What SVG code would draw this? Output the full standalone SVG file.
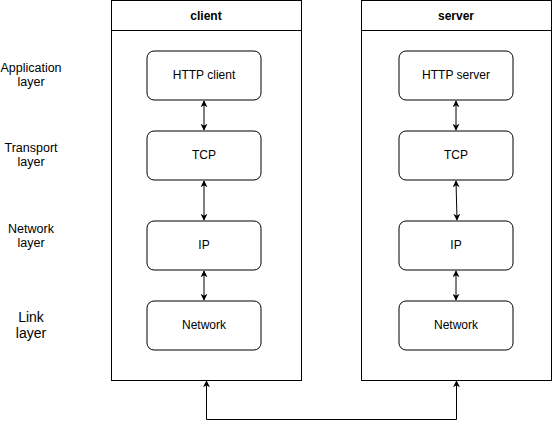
<svg xmlns="http://www.w3.org/2000/svg" width="552" height="430" viewBox="0 0 552 430">
<style>
text{font-family:"Liberation Sans",Arial,sans-serif;font-size:12px;fill:#000;text-anchor:middle}
.hdr{font-weight:bold}
.box{fill:#fff;stroke:#000;stroke-width:1}
.node{fill:#fff;stroke:#000;stroke-width:1}
.conn{fill:none;stroke:#000;stroke-width:1}
.lbl{font-size:12.5px}
.big{font-size:14px}
</style>
<defs>
<marker id="ah" viewBox="0 0 10 10" refX="9" refY="5" markerWidth="7" markerHeight="7" orient="auto-start-reverse" markerUnits="userSpaceOnUse">
<path d="M0,0 L10,5 L0,10 L3,5 Z" fill="#000"/>
</marker>
</defs>
<rect width="552" height="430" fill="#fff"/>
<g id="labels">
<text class="lbl" x="31" y="72">Application</text>
<text class="lbl" x="31" y="86">layer</text>
<text class="lbl" x="31" y="152">Transport</text>
<text class="lbl" x="31" y="166">layer</text>
<text class="lbl" x="31" y="233">Network</text>
<text class="lbl" x="31" y="247">layer</text>
<text class="big" x="31" y="322">Link</text>
<text class="big" x="31" y="338">layer</text>
</g>
<g id="client">
<rect class="box" x="111.5" y="0.5" width="190" height="380"/>
<line class="conn" x1="111.5" y1="30.5" x2="301.5" y2="30.5"/>
<text class="hdr" x="206" y="20">client</text>
</g>
<g id="server">
<rect class="box" x="361.5" y="0.5" width="190" height="380"/>
<line class="conn" x1="361.5" y1="30.5" x2="551.5" y2="30.5"/>
<text class="hdr" x="456" y="20">server</text>
</g>
<g id="http-client"><rect class="node" x="147" y="51" width="114" height="49" rx="7"/><text x="204" y="79">HTTP client</text></g>
<g id="tcp-client"><rect class="node" x="147" y="131" width="114" height="49" rx="7"/><text x="204" y="159">TCP</text></g>
<g id="ip-client"><rect class="node" x="147" y="221" width="114" height="49" rx="7"/><text x="204" y="249">IP</text></g>
<g id="net-client"><rect class="node" x="147" y="301" width="114" height="49" rx="7"/><text x="204" y="329">Network</text></g>
<g id="http-server"><rect class="node" x="399" y="51" width="114" height="49" rx="7"/><text x="456" y="79">HTTP server</text></g>
<g id="tcp-server"><rect class="node" x="399" y="131" width="114" height="49" rx="7"/><text x="456" y="159">TCP</text></g>
<g id="ip-server"><rect class="node" x="399" y="221" width="114" height="49" rx="7"/><text x="456" y="249">IP</text></g>
<g id="net-server"><rect class="node" x="399" y="301" width="114" height="49" rx="7"/><text x="456" y="329">Network</text></g>
<g id="connectors">
<line class="conn" x1="204" y1="101" x2="204" y2="130" marker-start="url(#ah)" marker-end="url(#ah)"/>
<line class="conn" x1="204" y1="181" x2="204" y2="220" marker-start="url(#ah)" marker-end="url(#ah)"/>
<line class="conn" x1="204" y1="271" x2="204" y2="300" marker-start="url(#ah)" marker-end="url(#ah)"/>
<line class="conn" x1="456" y1="101" x2="456" y2="130" marker-start="url(#ah)" marker-end="url(#ah)"/>
<line class="conn" x1="456" y1="181" x2="457" y2="220" marker-start="url(#ah)" marker-end="url(#ah)"/>
<line class="conn" x1="456" y1="271" x2="456" y2="300" marker-start="url(#ah)" marker-end="url(#ah)"/>
<path class="conn" d="M206.5,381 V419.5 H456.5 V381" marker-start="url(#ah)" marker-end="url(#ah)"/>
</g>
</svg>
